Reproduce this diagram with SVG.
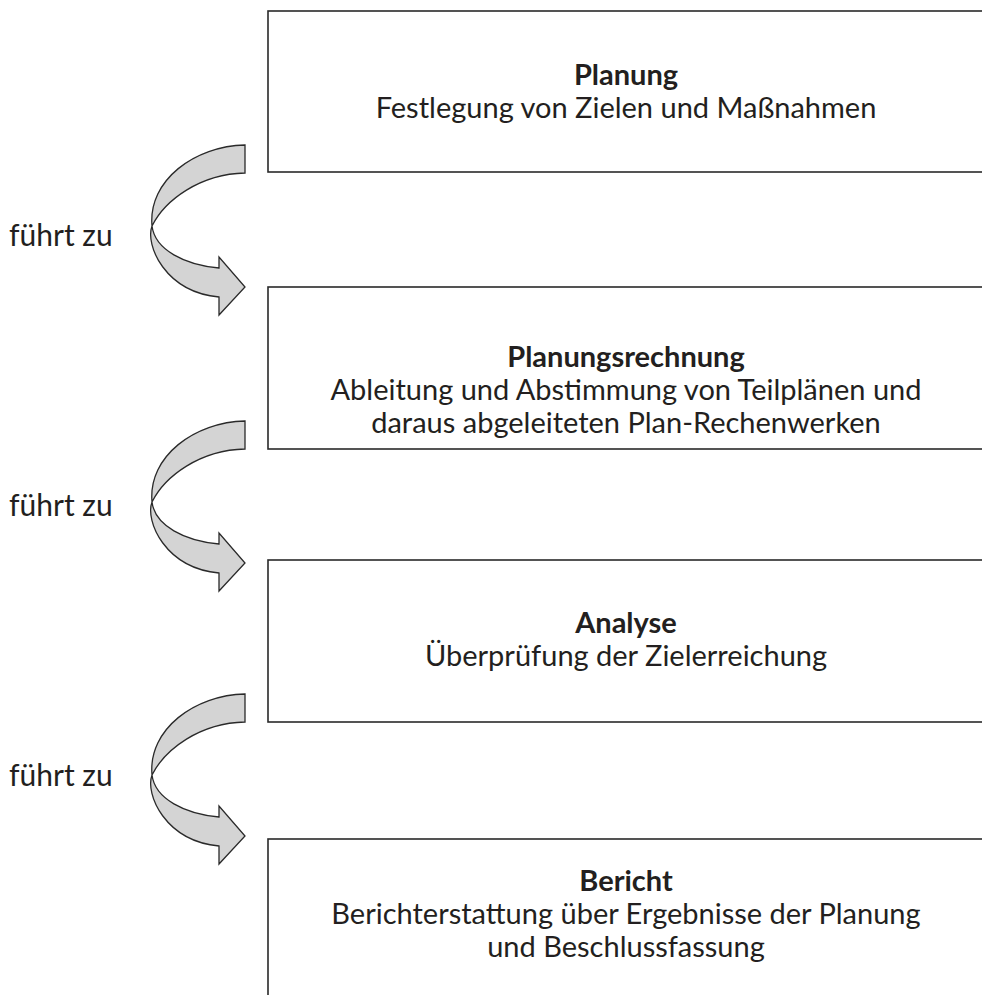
<svg xmlns="http://www.w3.org/2000/svg" width="982" height="995" viewBox="0 0 982 995">
<defs>
<style>
.box{fill:#fff;stroke:#2a2a2a;stroke-width:1.6}
.t{font-family:Lato,"Liberation Sans",Arial,sans-serif;font-size:29px;fill:#231f20;text-anchor:middle}
.b{font-weight:bold}
.lbl{font-family:Lato,"Liberation Sans",Arial,sans-serif;font-size:30px;fill:#231f20}
.arr{fill:#d4d4d4;stroke:#2a2a2a;stroke-width:1.3;stroke-linejoin:miter}
</style>
<path id="carrow" d="M245,145 C195,146 148,180 152,226 C155,250 185,265 219,268 L219,257 L245,287 L219,315 L219,297 C165,292 145,245 152,226 C165,200 200,174 245,173 Z"/>
</defs>
<rect width="982" height="995" fill="#fff"/>
<g id="connectors">
<use href="#carrow" class="arr"/>
<use href="#carrow" class="arr" transform="translate(0,276)"/>
<use href="#carrow" class="arr" transform="translate(0,549)"/>
<text class="lbl" x="9" y="246">führt zu</text>
<text class="lbl" x="9" y="516">führt zu</text>
<text class="lbl" x="9" y="786">führt zu</text>
</g>
<g id="planung">
<rect class="box" x="268" y="11" width="722" height="161"/>
<text class="t b" x="626" y="85">Planung</text>
<text class="t" x="626" y="118">Festlegung von Zielen und Maßnahmen</text>
</g>
<g id="planungsrechnung">
<rect class="box" x="268" y="287" width="722" height="162"/>
<text class="t b" x="626" y="367">Planungsrechnung</text>
<text class="t" x="626" y="400">Ableitung und Abstimmung von Teilplänen und</text>
<text class="t" x="626" y="433">daraus abgeleiteten Plan-Rechenwerken</text>
</g>
<g id="analyse">
<rect class="box" x="268" y="560" width="722" height="162"/>
<text class="t b" x="626" y="633">Analyse</text>
<text class="t" x="626" y="666">Überprüfung der Zielerreichung</text>
</g>
<g id="bericht">
<rect class="box" x="268" y="839" width="722" height="170"/>
<text class="t b" x="626" y="891">Bericht</text>
<text class="t" x="626" y="924">Berichterstattung über Ergebnisse der Planung</text>
<text class="t" x="626" y="957">und Beschlussfassung</text>
</g>
</svg>
